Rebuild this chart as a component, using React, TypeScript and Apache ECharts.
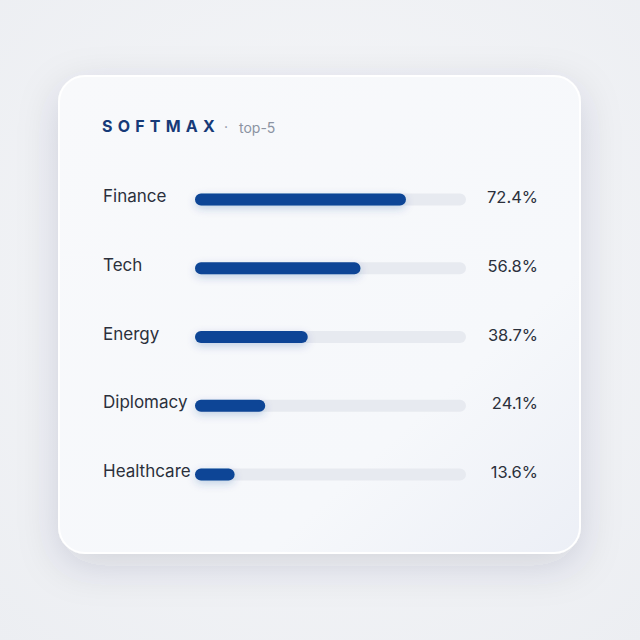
import React, { useEffect, useRef } from "react";
import * as echarts from "echarts";

const categories = ["Finance", "Tech", "Energy", "Diplomacy", "Healthcare"];
const values = [72.4, 56.8, 38.7, 24.1, 13.6];
const valueLabels = ["72.4%", "56.8%", "38.7%", "24.1%", "13.6%"];
const titleMain = "SOFTMAX";
const titleSub = "top-5";

export default function App() {
  const ref = useRef<HTMLDivElement>(null);
  useEffect(() => {
    if (!ref.current) return;
    const chart = echarts.init(ref.current, null, { renderer: "svg" });
    chart.setOption({
      animation: false,
      backgroundColor: {
        type: "radial",
        x: 0.5,
        y: 0.45,
        r: 0.75,
        colorStops: [
          { offset: 0, color: "#f6f7f9" },
          { offset: 1, color: "#eceef2" },
        ],
      },
      graphic: [
        {
          type: "rect",
          z: -10,
          shape: { x: 59, y: 76, width: 521, height: 477, r: 26 },
          style: {
            fill: {
              type: "linear",
              x: 0,
              y: 0,
              x2: 1,
              y2: 1,
              colorStops: [
                { offset: 0, color: "#f8f9fb" },
                { offset: 0.7, color: "#f6f8fb" },
                { offset: 1, color: "#eceff6" },
              ],
            },
            stroke: "#ffffff",
            lineWidth: 2,
            shadowBlur: 40,
            shadowOffsetY: 12,
            shadowColor: "rgba(40,50,80,0.15)",
          },
        },
        {
          type: "text",
          x: 102,
          y: 126,
          style: {
            text: titleMain,
            fill: "#163a78",
            font: "bold 16px Inter",
            verticalAlign: "middle",
            align: "left",
          },
        },
        {
          type: "text",
          x: 224,
          y: 126,
          style: {
            text: "·",
            fill: "#8b93a2",
            font: "14px Inter",
            verticalAlign: "middle",
            align: "left",
          },
        },
        {
          type: "text",
          x: 239,
          y: 127,
          style: {
            text: titleSub,
            fill: "#8b93a2",
            font: "14px Inter",
            verticalAlign: "middle",
            align: "left",
          },
        },
      ],
      grid: { left: 195, right: 174, top: 165, bottom: 131 },
      xAxis: {
        type: "value",
        min: 0,
        max: 93,
        show: false,
      },
      yAxis: [
        {
          type: "category",
          data: categories,
          inverse: true,
          axisLine: { show: false },
          axisTick: { show: false },
          axisLabel: {
            align: "left",
            margin: 92,
            formatter: "{a|{value}}",
            rich: {
              a: {
                color: "#2b303b",
                fontSize: 17,
                fontFamily: "Inter",
                padding: [0, 0, 7, 0],
              },
            },
          },
        },
        {
          type: "category",
          data: valueLabels,
          inverse: true,
          position: "right",
          axisLine: { show: false },
          axisTick: { show: false },
          axisLabel: {
            align: "right",
            margin: 72,
            formatter: "{a|{value}}",
            rich: {
              a: {
                color: "#2b303b",
                fontSize: 16.5,
                fontFamily: "Inter",
                padding: [0, 0, 5, 0],
              },
            },
          },
        },
      ],
      series: [
        {
          type: "bar",
          data: values,
          barWidth: 12,
          showBackground: true,
          backgroundStyle: { color: "#e7eaf0", borderRadius: 6 },
          itemStyle: {
            color: "#0c4596",
            borderRadius: 6,
            shadowBlur: 8,
            shadowOffsetY: 3,
            shadowColor: "rgba(12,69,150,0.22)",
          },
        },
      ],
    });
    const svg = ref.current.querySelector("svg");
    if (svg) {
      svg.querySelectorAll("text").forEach((t) => {
        if (t.textContent === titleMain) {
          (t as SVGTextElement).style.letterSpacing = "5.2px";
        }
      });
    }
    return () => chart.dispose();
  }, []);
  return (
    <div
      ref={ref}
      style={{ position: "absolute", left: 0, top: 0, width: 640, height: 640 }}
    />
  );
}
